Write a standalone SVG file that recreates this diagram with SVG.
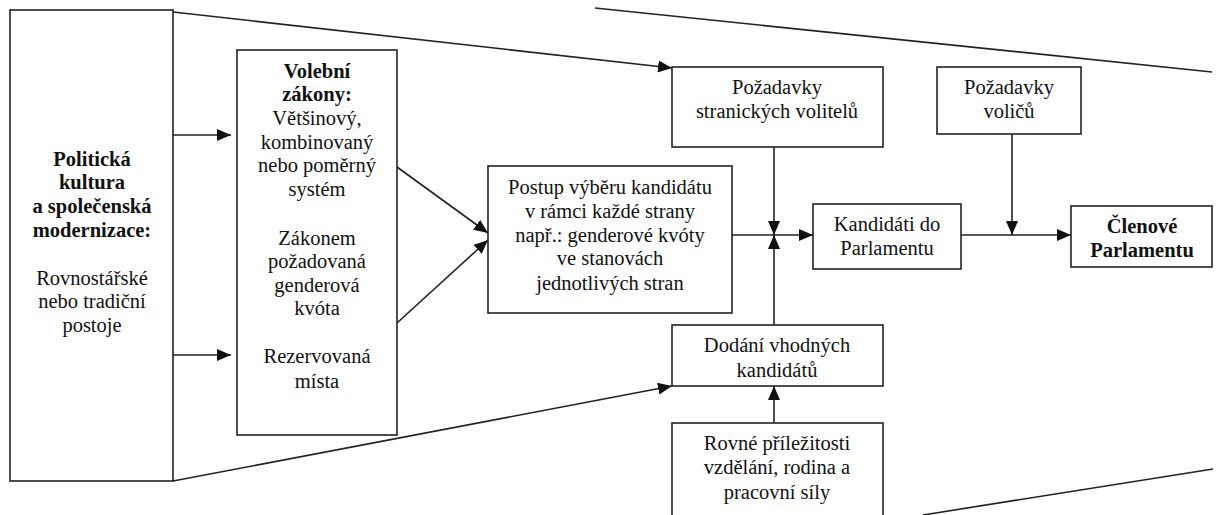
<svg xmlns="http://www.w3.org/2000/svg" width="1218" height="515" viewBox="0 0 1218 515" font-family="Liberation Serif, Times New Roman, serif" font-size="20.5">
<style>
.box{fill:#fff;stroke:#222;stroke-width:1.6}
.ln{fill:none;stroke:#222;stroke-width:1.6}
.ar{fill:none;stroke:#222;stroke-width:1.6;marker-end:url(#ah)}
.t{fill:#111;text-anchor:middle}
.b{font-weight:bold}
</style>
<defs>
<marker id="ah" viewBox="0 0 14 12" refX="14" refY="6" markerWidth="14" markerHeight="12" markerUnits="userSpaceOnUse" orient="auto">
<path d="M0,0 L14,6 L0,12 Z" fill="#111"/>
</marker>
</defs>
<rect width="1218" height="515" fill="#fff"/>
<g id="connectors">
<line class="ln" x1="595" y1="8" x2="1212" y2="72"/>
<line class="ln" x1="923" y1="515" x2="1213" y2="469"/>
<line class="ar" x1="173" y1="12" x2="672" y2="68"/>
<line class="ar" x1="173" y1="481" x2="672" y2="386"/>
<line class="ar" x1="173" y1="135" x2="231" y2="135"/>
<line class="ar" x1="173" y1="355" x2="231" y2="355"/>
<line class="ar" x1="397" y1="167" x2="488" y2="233"/>
<line class="ar" x1="397" y1="323" x2="488" y2="240"/>
<line class="ar" x1="774" y1="147" x2="774" y2="235"/>
<line class="ar" x1="774" y1="325" x2="774" y2="235"/>
<line class="ar" x1="732" y1="235" x2="813" y2="235"/>
<line class="ar" x1="961" y1="235" x2="1071" y2="235"/>
<line class="ar" x1="1012" y1="134" x2="1012" y2="235"/>
<line class="ar" x1="774" y1="423" x2="774" y2="386"/>
</g>
<g id="n-politicka">
<rect class="box" x="10" y="10" width="163" height="471"/>
<text class="t b" x="92" y="166">Politická</text>
<text class="t b" x="92" y="189">kultura</text>
<text class="t b" x="92" y="213">a společenská</text>
<text class="t b" x="92" y="237">modernizace:</text>
<text class="t" x="92" y="285">Rovnostářské</text>
<text class="t" x="92" y="308">nebo tradiční</text>
<text class="t" x="92" y="332">postoje</text>
</g>
<g id="n-volebni">
<rect class="box" x="237" y="50" width="160" height="385"/>
<text class="t b" x="317" y="78">Volební</text>
<text class="t b" x="317" y="101">zákony:</text>
<text class="t" x="317" y="125">Většinový,</text>
<text class="t" x="317" y="149">kombinovaný</text>
<text class="t" x="317" y="172">nebo poměrný</text>
<text class="t" x="317" y="196">systém</text>
<text class="t" x="317" y="245">Zákonem</text>
<text class="t" x="317" y="268">požadovaná</text>
<text class="t" x="317" y="292">genderová</text>
<text class="t" x="317" y="315">kvóta</text>
<text class="t" x="317" y="363">Rezervovaná</text>
<text class="t" x="317" y="388">místa</text>
</g>
<g id="n-postup">
<rect class="box" x="488" y="166" width="244" height="147"/>
<text class="t" x="610" y="194">Postup výběru kandidátu</text>
<text class="t" x="610" y="218">v rámci každé strany</text>
<text class="t" x="610" y="242">např.: genderové kvóty</text>
<text class="t" x="610" y="265">ve stanovách</text>
<text class="t" x="610" y="290">jednotlivých stran</text>
</g>
<g id="n-pozadavky-stranickych">
<rect class="box" x="672" y="67" width="211" height="80"/>
<text class="t" x="777" y="94">Požadavky</text>
<text class="t" x="777" y="118">stranických volitelů</text>
</g>
<g id="n-pozadavky-volicu">
<rect class="box" x="937" y="67" width="144" height="67"/>
<text class="t" x="1009" y="94">Požadavky</text>
<text class="t" x="1009" y="118">voličů</text>
</g>
<g id="n-kandidati">
<rect class="box" x="813" y="204" width="148" height="65"/>
<text class="t" x="887" y="231">Kandidáti do</text>
<text class="t" x="887" y="255">Parlamentu</text>
</g>
<g id="n-clenove">
<rect class="box" x="1071" y="206" width="141" height="61"/>
<text class="t b" x="1142" y="233">Členové</text>
<text class="t b" x="1142" y="257">Parlamentu</text>
</g>
<g id="n-dodani">
<rect class="box" x="672" y="325" width="211" height="61"/>
<text class="t" x="777" y="352">Dodání vhodných</text>
<text class="t" x="777" y="377">kandidátů</text>
</g>
<g id="n-rovne">
<rect class="box" x="672" y="423" width="211" height="100"/>
<text class="t" x="777" y="450">Rovné příležitosti</text>
<text class="t" x="777" y="474">vzdělání, rodina a</text>
<text class="t" x="777" y="499">pracovní síly</text>
</g>
</svg>
